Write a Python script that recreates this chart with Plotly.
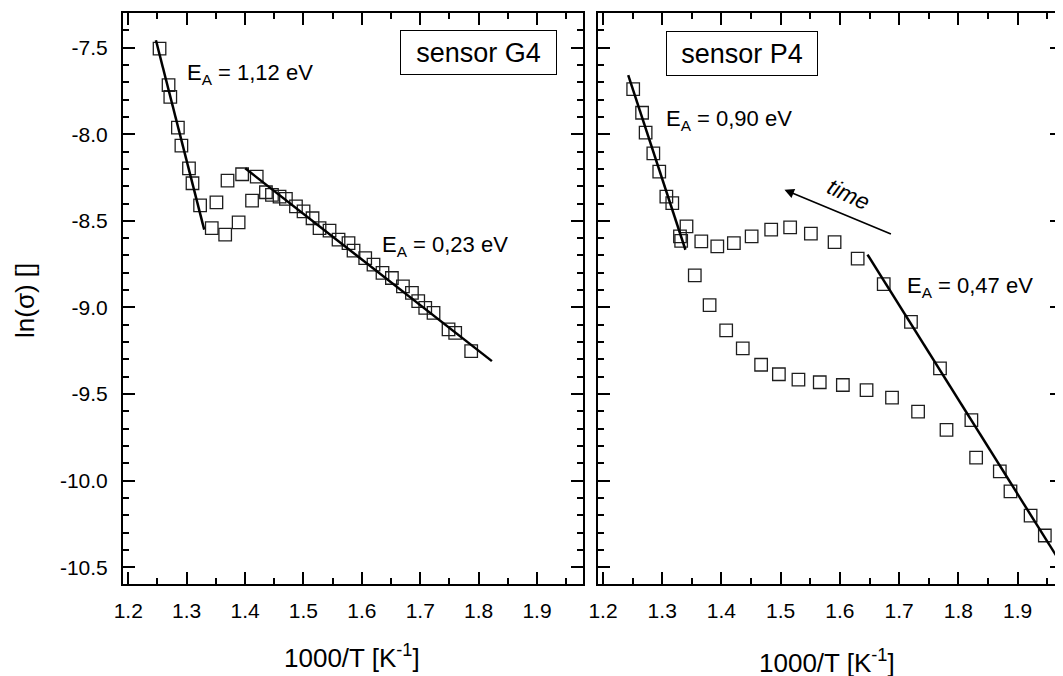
import plotly.graph_objects as go

# ---- data: sensor G4 (left panel) ----
g4_x = [1.2536, 1.269, 1.272, 1.285, 1.291, 1.304, 1.310, 1.323, 1.351, 1.343,
        1.366, 1.389, 1.370, 1.395, 1.420, 1.412,
        1.4358, 1.4461, 1.4591, 1.4700, 1.4872, 1.5002, 1.5156, 1.5276, 1.5447,
        1.5601, 1.5772, 1.5858, 1.6058, 1.6200, 1.6354, 1.6515, 1.6704, 1.6858,
        1.6966, 1.7086, 1.7228, 1.7485, 1.7599, 1.7873]
g4_y = [-7.506, -7.717, -7.784, -7.962, -8.066, -8.197, -8.283, -8.411, -8.394, -8.542,
        -8.580, -8.509, -8.268, -8.231, -8.245, -8.383,
        -8.335, -8.350, -8.360, -8.373, -8.417, -8.446, -8.485, -8.542, -8.557,
        -8.609, -8.629, -8.672, -8.715, -8.753, -8.801, -8.830, -8.878, -8.916,
        -8.964, -9.003, -9.032, -9.127, -9.147, -9.252]
g4_fit1_x = [1.2474, 1.3301]
g4_fit1_y = [-7.457, -8.551]
g4_fit2_x = [1.4003, 1.8228]
g4_fit2_y = [-8.197, -9.310]

# ---- data: sensor P4 (right panel) ----
p4_x = [1.251, 1.266, 1.272, 1.285, 1.295, 1.307, 1.317, 1.341, 1.330, 1.332,
        1.366, 1.393, 1.421, 1.451, 1.484, 1.516, 1.551, 1.591, 1.630, 1.674,
        1.720, 1.769, 1.822, 1.870, 1.888, 1.922, 1.946,
        1.355, 1.380, 1.408, 1.436, 1.467, 1.497, 1.530, 1.566, 1.605, 1.645,
        1.688, 1.732, 1.780, 1.830]
p4_y = [-7.740, -7.876, -7.991, -8.110, -8.216, -8.360, -8.398, -8.532, -8.590, -8.616,
        -8.619, -8.648, -8.629, -8.590, -8.551, -8.538, -8.574, -8.623, -8.718, -8.865,
        -9.083, -9.352, -9.651, -9.947, -10.062, -10.202, -10.317,
        -8.815, -8.987, -9.133, -9.237, -9.331, -9.386, -9.417, -9.432, -9.448, -9.477,
        -9.521, -9.602, -9.707, -9.867]
p4_fit1_x = [1.2426, 1.3392]
p4_fit1_y = [-7.659, -8.667]
p4_fit2_x = [1.6466, 1.98]
p4_fit2_y = [-8.695, -10.514]

x_ticks = [1.2, 1.3, 1.4, 1.5, 1.6, 1.7, 1.8, 1.9]
y_ticks = [-7.5, -8.0, -8.5, -9.0, -9.5, -10.0, -10.5]

FONT = "Arial, Liberation Sans, sans-serif"
MK = dict(symbol="square-open", size=12.5, color="#1e1e1e", line=dict(width=1.3, color="#1e1e1e"))
LN = dict(color="black", width=2.5)

W, H = 1063, 676
L, R, T, B = 115, 9, 3, 100
PAGE_OFF = 8  # default page body margin

fig = go.Figure()
fig.add_trace(go.Scatter(x=g4_x, y=g4_y, mode="markers", marker=MK, xaxis="x", yaxis="y"))
fig.add_trace(go.Scatter(x=g4_fit1_x, y=g4_fit1_y, mode="lines", line=LN, xaxis="x", yaxis="y"))
fig.add_trace(go.Scatter(x=g4_fit2_x, y=g4_fit2_y, mode="lines", line=LN, xaxis="x", yaxis="y"))
fig.add_trace(go.Scatter(x=p4_x, y=p4_y, mode="markers", marker=MK, xaxis="x2", yaxis="y2"))
fig.add_trace(go.Scatter(x=p4_fit1_x, y=p4_fit1_y, mode="lines", line=LN, xaxis="x2", yaxis="y2"))
fig.add_trace(go.Scatter(x=p4_fit2_x, y=p4_fit2_y, mode="lines", line=LN, xaxis="x2", yaxis="y2"))

TICKFONT = dict(family=FONT, size=21, color="black")

def xax(domain, rng, anchor):
    return dict(domain=domain, range=rng, anchor=anchor, tickvals=x_ticks,
                ticktext=[f"{v:.1f}" for v in x_ticks],
                ticks="inside", ticklen=12, tickwidth=2, tickcolor="black",
                showline=True, linewidth=2, linecolor="black", mirror="ticks",
                showgrid=False, zeroline=False, ticklabelstandoff=7,
                tickfont=TICKFONT,
                minor=dict(dtick=0.05, tick0=1.2, ticks="inside", ticklen=6, tickwidth=2, tickcolor="black"))

def yax(anchor, labels):
    return dict(anchor=anchor, domain=[0, 1], range=[-10.597, -7.30], tickvals=y_ticks,
                ticktext=[f"{v:.1f}" for v in y_ticks], showticklabels=labels,
                ticks="inside", ticklen=12, tickwidth=2, tickcolor="black",
                showline=True, linewidth=2, linecolor="black", mirror="ticks",
                showgrid=False, zeroline=False, ticklabelstandoff=9,
                tickfont=TICKFONT,
                minor=dict(dtick=0.1, tick0=-7.5, ticks="inside", ticklen=6, tickwidth=2, tickcolor="black"))

fig.update_layout(
    width=W, height=H, showlegend=False,
    paper_bgcolor="white", plot_bgcolor="white",
    margin=dict(l=L, r=R, t=T, b=B),
    xaxis=xax([0, 0.4894], [1.191, 1.978], "y"),
    yaxis=yax("x", True),
    xaxis2=xax([0.5058, 1.0], [1.1915, 1.975], "y2"),
    yaxis2=yax("x2", False),
    font=dict(family=FONT, color="black"),
)

ann_font = dict(family=FONT, size=22, color="black")
box_font = dict(family=FONT, size=27, color="black")
title_font = dict(family=FONT, size=26, color="black")
anns = [
    dict(x=1.2976, y=-7.655, xref="x", yref="y", text="E<sub>A</sub> = 1,12 eV",
         showarrow=False, xanchor="left", yanchor="middle", font=ann_font),
    dict(x=1.6303, y=-8.645, xref="x", yref="y", text="E<sub>A</sub> = 0,23 eV",
         showarrow=False, xanchor="left", yanchor="middle", font=ann_font),
    dict(x=1.3027, y=-7.915, xref="x2", yref="y2", text="E<sub>A</sub> = 0,90 eV",
         showarrow=False, xanchor="left", yanchor="middle", font=ann_font),
    dict(x=1.7096, y=-8.884, xref="x2", yref="y2", text="E<sub>A</sub> = 0,47 eV",
         showarrow=False, xanchor="left", yanchor="middle", font=ann_font),
    dict(x=1.8002, y=-7.528, xref="x", yref="y", text="sensor G4", showarrow=False,
         xanchor="center", yanchor="middle", font=box_font,
         bordercolor="black", borderwidth=1, borderpad=4, bgcolor="white", width=147, height=35),
    dict(x=1.234 + 0.2, y=-7.531, xref="x2", yref="y2", text="sensor P4", showarrow=False,
         xanchor="center", yanchor="middle", font=box_font,
         bordercolor="black", borderwidth=1, borderpad=4, bgcolor="white", width=142, height=35),
    dict(x=1.614, y=-8.345, xref="x2", yref="y2", text="<i>time</i>", showarrow=False,
         textangle=25, font=dict(family=FONT, size=23, color="black")),
    dict(x=1.5064, y=-8.321, xref="x2", yref="y2", ax=1.6887, ay=-8.580, axref="x2", ayref="y2",
         text="", showarrow=True, arrowhead=2, arrowsize=1.2, arrowwidth=1.6, arrowcolor="black"),
]
# axis titles placed by page pixel centre -> paper coords
pw, ph = W - L - R, H - T - B
def paper(px, py):
    fx, fy = px - PAGE_OFF, py - PAGE_OFF
    return (fx - L) / pw, (H - B - fy) / ph

for (px, py, txt, ang) in [(352, 657, "1000/T [K<sup>-1</sup>]", 0),
                           (827, 662, "1000/T [K<sup>-1</sup>]", 0),
                           (25, 300, "ln(σ) []", -90)]:
    xp, yp = paper(px, py)
    anns.append(dict(x=xp, y=yp, xref="paper", yref="paper", text=txt, textangle=ang,
                     showarrow=False, xanchor="center", yanchor="middle", font=title_font))
fig.update_layout(annotations=anns)

fig.write_html("out.html")
